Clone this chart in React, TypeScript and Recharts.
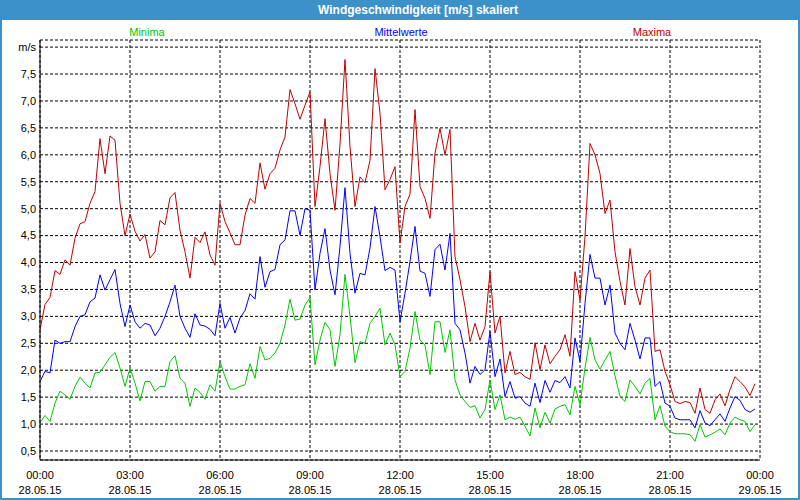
import React from 'react'
import { LineChart, Line, XAxis, YAxis, CartesianGrid } from 'recharts'

// 10-minute samples, 28.05.15 00:00 .. 23:50
const minima = [
  1.02, 1.16, 1.05, 1.39, 1.61, 1.54, 1.46, 1.7, 1.87, 1.76, 1.67, 1.95, 1.96, 2.1, 2.24, 2.33, 2.04, 1.7, 2.04, 1.76, 1.43, 1.79, 1.79, 1.61, 1.7, 1.7, 2.16, 2.27, 1.85,
  1.76, 1.33, 1.67, 1.59, 1.46, 1.73, 1.61, 2.16, 1.88, 1.65, 1.65, 1.7, 1.73, 2.12, 1.85, 2.44, 2.19, 2.22, 2.32, 2.5, 2.84, 3.32, 2.93, 2.95, 3.21, 3.35, 2.1, 2.56, 2.89,
  2.75, 2.07, 2.66, 3.78, 3.0, 2.14, 2.53, 2.5, 2.87, 3.0, 3.15, 2.47, 2.69, 2.47, 1.88, 1.98, 2.41, 3.09, 2.56, 2.47, 1.92, 2.9, 2.9, 2.33, 2.75, 1.82, 1.54, 1.42, 1.31,
  1.34, 1.11, 1.27, 1.82, 1.27, 1.54, 1.08, 1.13, 1.09, 1.13, 0.96, 0.78, 1.3, 0.93, 1.22, 1.02, 1.28, 1.33, 1.36, 1.17, 1.7, 1.36, 2.04, 2.61, 2.19, 2.02, 2.19, 2.35, 1.9,
  1.51, 1.42, 1.82, 1.7, 1.56, 1.76, 1.85, 1.08, 1.34, 0.96, 0.86, 0.82, 0.82, 0.82, 0.8, 0.68, 0.99, 0.76, 0.8, 0.85, 0.91, 0.8, 1.02, 1.13, 1.08, 1.05, 0.86, 0.99,
]

const mittelwerte = [
  1.79, 1.98, 1.95, 2.56, 2.5, 2.53, 2.53, 2.81, 3.0, 3.03, 3.27, 3.34, 3.77, 3.49, 3.68, 3.87, 3.24, 2.81, 3.21, 2.9, 2.78, 2.87, 2.84, 2.64, 2.78, 3.0, 3.27, 3.58, 3.0,
  2.78, 2.61, 3.05, 2.84, 2.82, 2.76, 2.64, 3.24, 2.78, 2.98, 2.69, 2.97, 3.11, 3.42, 3.32, 4.11, 3.54, 3.83, 3.87, 4.33, 4.42, 4.96, 4.96, 4.51, 5.0, 4.97, 3.49, 4.17, 4.63,
  3.86, 3.4, 4.3, 5.39, 4.17, 3.43, 3.8, 3.77, 4.27, 5.04, 4.48, 3.85, 3.91, 3.86, 2.9, 3.43, 4.02, 4.67, 3.84, 3.8, 3.37, 4.24, 4.34, 3.86, 4.54, 2.87, 2.75, 2.32, 1.76,
  2.07, 1.92, 2.01, 2.72, 1.88, 2.21, 1.51, 1.79, 1.48, 1.51, 1.39, 1.33, 1.76, 1.4, 1.81, 1.59, 1.81, 1.77, 1.88, 1.67, 2.6, 2.16, 3.24, 4.15, 3.71, 3.71, 3.21, 3.58, 2.69,
  2.5, 2.38, 2.87, 2.56, 2.21, 2.6, 2.6, 1.7, 1.79, 1.39, 1.33, 1.11, 1.08, 1.08, 1.08, 0.93, 1.25, 1.02, 0.97, 1.08, 1.19, 1.05, 1.3, 1.51, 1.44, 1.27, 1.22, 1.28,
]

const maxima = [
  2.75, 3.22, 3.35, 3.85, 3.78, 4.05, 3.95, 4.45, 4.72, 4.76, 5.1, 5.32, 6.3, 5.65, 6.35, 6.27, 5.1, 4.5, 4.9, 4.58, 4.4, 4.52, 4.08, 4.2, 4.78, 4.7, 5.2, 5.3, 4.6,
  4.2, 3.71, 4.47, 4.37, 4.57, 4.14, 3.95, 5.1, 4.76, 4.55, 4.33, 4.33, 4.88, 5.19, 5.1, 5.85, 5.36, 5.65, 5.75, 6.09, 6.33, 7.21, 6.95, 6.66, 6.92, 7.17, 5.04, 5.78, 6.67,
  5.65, 4.97, 6.2, 7.77, 6.15, 5.04, 5.59, 5.48, 5.9, 7.6, 6.77, 5.35, 5.54, 5.78, 4.36, 5.04, 5.27, 6.84, 5.41, 5.19, 4.82, 6.03, 6.49, 6.0, 6.47, 4.11, 3.68, 3.18, 2.53,
  2.87, 2.56, 2.81, 3.83, 2.69, 3.0, 1.95, 2.35, 1.92, 1.96, 1.88, 1.83, 2.51, 2.01, 2.47, 2.12, 2.26, 2.38, 2.66, 2.26, 3.83, 3.3, 4.48, 6.21, 6.0, 5.65, 4.91, 5.16, 4.2,
  3.65, 3.21, 4.26, 3.55, 3.21, 3.71, 3.86, 2.35, 2.38, 1.98, 1.73, 1.42, 1.38, 1.42, 1.4, 1.2, 1.67, 1.27, 1.2, 1.45, 1.56, 1.34, 1.64, 1.88, 1.79, 1.69, 1.53, 1.75,
]

const seriesNames = ['Minima', 'Mittelwerte', 'Maxima']
const seriesColors = ['#00c800', '#0000ff', '#c00000']
const legendCenters = [147, 401, 652]

const majorTicks = [0, 180, 360, 540, 720, 900, 1080, 1260, 1440]
const tickTimes = ['00:00', '03:00', '06:00', '09:00', '12:00', '15:00', '18:00', '21:00', '00:00']
const tickDates = ['28.05.15', '28.05.15', '28.05.15', '28.05.15', '28.05.15', '28.05.15', '28.05.15', '28.05.15', '29.05.15']
const hourTicks = Array.from({ length: 25 }, (_, i) => i * 60)
const yTicks = [0.5, 1, 1.5, 2, 2.5, 3, 3.5, 4, 4.5, 5, 5.5, 6, 6.5, 7, 7.5, 8]
const yDomain = [0.333, 8.132]

const FONT = '"Liberation Sans", Arial, sans-serif'

const data = maxima.map((v, i) => ({
  t: i * 10,
  min: minima[i],
  avg: mittelwerte[i],
  max: v,
}))

const XTick = (props: any) => {
  const { x, y, index } = props
  return (
    <g transform={`translate(${x},${y})`}>
      <text x={0} y={19} textAnchor="middle" fontSize={11} fontFamily={FONT} fill="#000">
        {tickTimes[index]}
      </text>
      <text x={0} y={34} textAnchor="middle" fontSize={11} fontFamily={FONT} fill="#000">
        {tickDates[index]}
      </text>
    </g>
  )
}

const fmtY = (v: number) => (v === 8 ? 'm/s' : v.toFixed(1).replace('.', ','))

export default function App() {
  const keys = ['min', 'avg', 'max']
  return (
    <div
      style={{
        position: 'fixed',
        left: 0,
        top: 0,
        width: 800,
        height: 500,
        background: '#fff',
        fontFamily: FONT,
      }}
    >
      <LineChart width={800} height={500} data={data} margin={{ top: 40, right: 40, bottom: 0, left: 0 }}>
        <CartesianGrid stroke="#000" strokeDasharray="3 2" />
        <XAxis
          xAxisId="minor"
          dataKey="t"
          type="number"
          domain={[0, 1440]}
          ticks={hourTicks}
          tick={false}
          tickSize={4}
          tickLine={{ stroke: '#000' }}
          axisLine={false}
          height={0}
        />
        <XAxis
          dataKey="t"
          type="number"
          domain={[0, 1440]}
          ticks={majorTicks}
          tick={<XTick />}
          tickLine={false}
          tickSize={0}
          tickMargin={0}
          axisLine={{ stroke: '#000' }}
          height={40}
          interval={0}
        />
        <XAxis
          xAxisId="top"
          orientation="top"
          dataKey="t"
          type="number"
          domain={[0, 1440]}
          tick={false}
          tickLine={false}
          axisLine={{ stroke: '#000' }}
          height={0}
        />
        <YAxis
          domain={yDomain}
          ticks={yTicks}
          tickFormatter={fmtY}
          tickLine={false}
          tickSize={0}
          tickMargin={4}
          axisLine={{ stroke: '#000' }}
          tick={{ fontSize: 11, fill: '#000', fontFamily: FONT }}
          width={40}
          interval={0}
          allowDataOverflow
        />
        <YAxis
          yAxisId="right"
          orientation="right"
          domain={yDomain}
          tick={false}
          tickLine={false}
          axisLine={{ stroke: '#000' }}
          width={0}
        />
        {keys.map((k, i) => (
          <Line
            key={k}
            type="linear"
            dataKey={k}
            name={seriesNames[i]}
            stroke={seriesColors[i]}
            strokeWidth={1}
            dot={false}
            activeDot={false}
            isAnimationActive={false}
          />
        ))}
      </LineChart>

      {/* title bar and frame */}
      <div
        style={{
          position: 'absolute',
          left: 0,
          top: 0,
          width: 800,
          height: 20,
          background: '#3c91c8',
          color: '#fff',
          fontWeight: 'bold',
          fontSize: 12,
          lineHeight: '20px',
          textAlign: 'center',
          paddingLeft: 36,
          boxSizing: 'border-box',
        }}
      >
        Windgeschwindigkeit [m/s] skaliert
      </div>
      <div
        style={{
          position: 'absolute',
          left: 0,
          top: 0,
          width: 800,
          height: 500,
          border: '2px solid #3c91c8',
          boxSizing: 'border-box',
          pointerEvents: 'none',
        }}
      />
      {seriesNames.map((n, i) => (
        <div
          key={n}
          style={{
            position: 'absolute',
            left: legendCenters[i] - 60,
            width: 120,
            top: 25,
            lineHeight: '14px',
            fontSize: 11,
            textAlign: 'center',
            color: seriesColors[i],
          }}
        >
          {n}
        </div>
      ))}
    </div>
  )
}
